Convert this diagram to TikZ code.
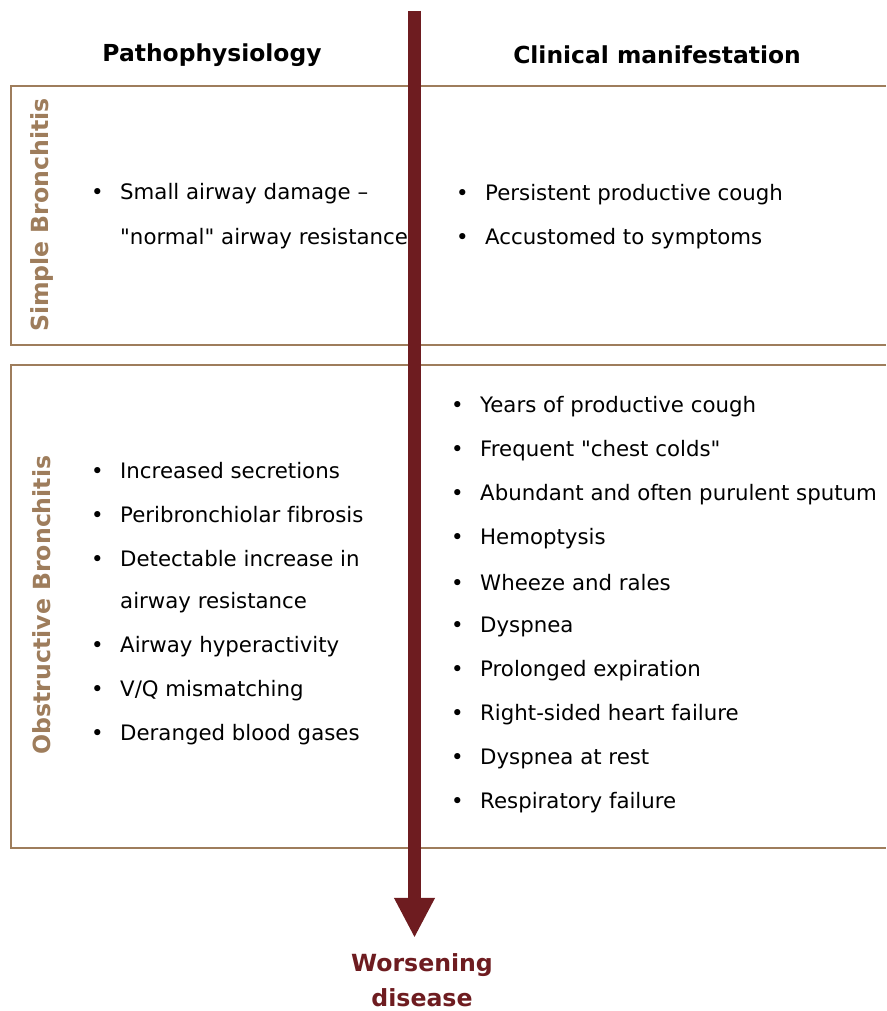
\documentclass[tikz,border=0pt]{standalone}
\usepackage{fontspec}
\setmainfont{DejaVu Sans}[Ligatures={TeXOff,NoCommon}]
\usetikzlibrary{arrows.meta}

\definecolor{boxbrown}{RGB}{158,125,92}
\definecolor{darkred}{RGB}{110,28,32}

\tikzset{
  frame/.style={draw=boxbrown, line width=2pt},
  head/.style={font=\bfseries\fontsize{23.4}{28}\selectfont},
  side/.style={rotate=90, text=boxbrown, font=\bfseries\fontsize{23.6}{28}\selectfont},
  item/.style={anchor=west, inner sep=0pt, font=\fontsize{21.3}{25}\selectfont},
  worse/.style={text=darkred, align=center, font=\bfseries\fontsize{23.6}{35}\selectfont},
  trend/.style={draw=darkred, line width=13pt, -{Triangle[width=38pt,length=40pt]}}}

\newcommand{\bul}{\makebox[29pt][l]{\textbullet}}

\begin{document}
\begin{tikzpicture}[x=1pt,y=-1pt]
    \useasboundingbox (0,0) rectangle (886,1011);
    % the two boxes, open to the right
    \draw[frame] (886,86) -- (11,86) -- (11,345) -- (886,345);
    \draw[frame] (886,365) -- (11,365) -- (11,848) -- (886,848);
    % headings
    \node[head] (patho) at (212,55) {Pathophysiology};
    \node[head] (clin) at (657,55) {Clinical manifestation};
    \node[side] (simple) at (42,215) {Simple Bronchitis};
    \node[side] (obstr) at (42,605) {Obstructive Bronchitis};
    % simple bronchitis
    \node[item] (s1) at (91,194) {\bul Small airway damage –};
    \node[item] (s2) at (120,239) {"normal" airway resistance};
    \node[item] (c1) at (456,195) {\bul Persistent productive cough};
    \node[item] (c2) at (456,239) {\bul Accustomed to symptoms};
    % obstructive bronchitis
    \node[item] (o1) at (91,471) {\bul Increased secretions};
    \node[item] (o2) at (91,515) {\bul Peribronchiolar fibrosis};
    \node[item] (o3) at (91,559) {\bul Detectable increase in};
    \node[item] (o4) at (120,603) {airway resistance};
    \node[item] (o5) at (91,647) {\bul Airway hyperactivity};
    \node[item] (o6) at (91,691) {\bul V/Q mismatching};
    \node[item] (o7) at (91,735) {\bul Deranged blood gases};
    \node[item] (m1) at (451,407) {\bul Years of productive cough};
    \node[item] (m2) at (451,451) {\bul Frequent "chest colds"};
    \node[item] (m3) at (451,495) {\bul Abundant and often purulent sputum};
    \node[item] (m4) at (451,539) {\bul Hemoptysis};
    \node[item] (m5) at (451,583) {\bul Wheeze and rales};
    \node[item] (m6) at (451,627) {\bul Dyspnea};
    \node[item] (m7) at (451,671) {\bul Prolonged expiration};
    \node[item] (m8) at (451,715) {\bul Right-sided heart failure};
    \node[item] (m9) at (451,759) {\bul Dyspnea at rest};
    \node[item] (m10) at (451,803) {\bul Respiratory failure};
    % worsening arrow
    \node[worse] (worse) at (422,980) {Worsening\\disease};
    \coordinate (top) at (414.5,11);
    \draw[trend, shorten >=12pt] (top) -- (top |- worse.north);
\end{tikzpicture}
\end{document}
